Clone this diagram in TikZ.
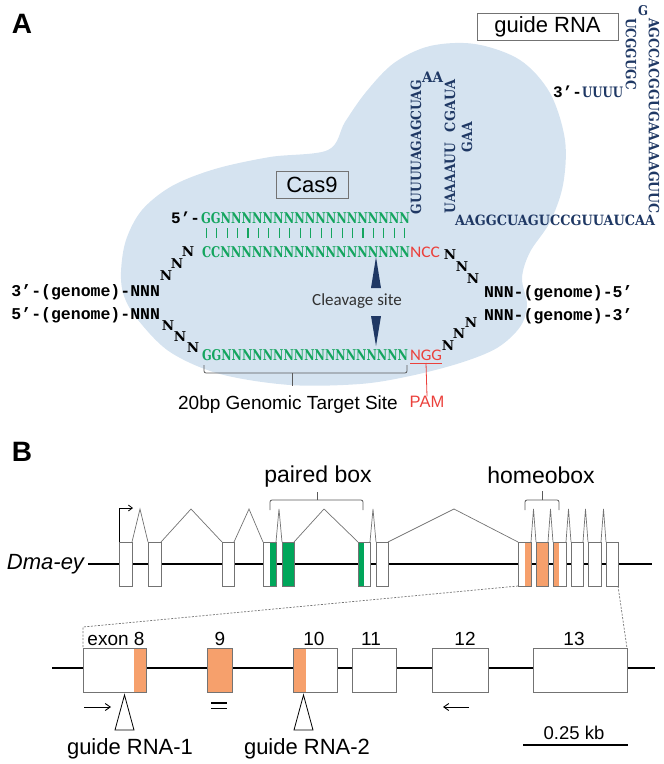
\documentclass[tikz,border=0pt]{standalone}
\usepackage{fontspec}
\usepackage{graphicx}
\setmainfont{Liberation Sans}
\newfontfamily\seqf{DejaVu Serif}
\newfontfamily\monof{Liberation Mono}
\newfontfamily\calf{Carlito}
\usetikzlibrary{arrows.meta}
\definecolor{blob}{RGB}{213,227,240}
\definecolor{navy}{RGB}{31,56,100}
\definecolor{sgreen}{RGB}{20,165,95}
\definecolor{sred}{RGB}{235,65,60}
\definecolor{bgreen}{RGB}{0,166,90}
\definecolor{orng}{RGB}{246,160,108}
\definecolor{boxgray}{RGB}{115,115,115}
\definecolor{bracegray}{RGB}{90,90,90}
\definecolor{cleav}{RGB}{50,50,50}
\newcommand\seqtxt[3]{\resizebox{#1pt}{#2pt}{\seqf\bfseries #3}}
\newcommand\redtxt[2]{\resizebox{#1pt}{10.5pt}{\calf #2}}
\newcommand\setfs[1]{\fontsize{#1}{#1}\selectfont}
\newcommand\exbox[6][]{\node[exonb,#1,minimum width={(#4-#3)*1pt},minimum height={(#6-#5)*1pt}] (#2) at ({(#3+#4)/2},{(#5+#6)/2}) {};}
\begin{document}
\begin{tikzpicture}[x=1pt,y=-1pt,
  every node/.style={inner sep=0pt,outer sep=0pt},
  rnaseq/.style={text=navy},
  nch/.style={font={\seqf\bfseries\setfs{13.5}}},
  gen/.style={font={\monof\bfseries\setfs{16.5}}},
  exonb/.style={draw=boxgray,fill=white,line width=0.7pt},
  intron/.style={draw=boxgray,line width=0.7pt},
  dotl/.style={draw=boxgray,line width=0.7pt,dash pattern=on 2pt off 1.5pt},
  bline/.style={line width=2.4pt},
  lbl/.style={font={\setfs{19}}},
  arr/.style={line width=0.9pt,-{Straight Barb[length=5pt,width=7pt]}}]
\useasboundingbox (0,0) rectangle (664,764);

% ---------------- Panel A ----------------
\node[font={\bfseries\setfs{28}}] (labA) at (22,24) {A};

\fill[blob] plot[smooth cycle,tension=0.55] coordinates {
 (121,272) (126,240) (142,210) (172,186) (215,169) (270,157) (328,150)
 (345,122) (366,92) (394,63) (430,46) (475,44) (520,60) (550,93)
 (565,140) (563,185) (550,222) (530,252) (522,278) (527,305) (520,327)
 (497,348) (460,363) (410,376) (360,384) (290,385) (220,374) (170,352)
 (138,320) (124,296)};

\node[draw=boxgray,line width=0.8pt,minimum width=141pt,minimum height=27pt,font={\setfs{22}}] (grna) at (547.5,26.5) {guide RNA};
\node[draw=boxgray,line width=0.8pt,minimum width=72pt,minimum height=27pt,font={\setfs{22}}] (cas) at (312,184.5) {Cas9};

% guide RNA sequence
\node[rnaseq,rotate=90,anchor=west] (c1) at (416,214) {\seqtxt{134}{10.5}{GUUUUAGAGCUAG}};
\node[rnaseq,anchor=west] (aa) at (422,77) {\seqtxt{21}{10.5}{AA}};
\node[rnaseq,rotate=90,anchor=west] (c2a) at (450,213) {\seqtxt{70}{10.5}{UAAAAUU}};
\node[rnaseq,rotate=90,anchor=west] (c2b) at (450,132) {\seqtxt{52}{10.5}{CGAUA}};
\node[rnaseq,rotate=90,anchor=west] (gaa) at (467,152) {\seqtxt{30}{10.5}{GAA}};
\node[rnaseq,anchor=west] (row) at (455,220) {\seqtxt{200}{10.5}{AAGGCUAGUCCGUUAUCAA}};
\node[rnaseq,rotate=-90,anchor=west] (c4) at (654,18) {\seqtxt{196}{10.5}{AGCCACGGUGAAAAAGUUC}};
\node[rnaseq,rotate=-90,anchor=west] (c3) at (631,18) {\seqtxt{72}{10.5}{UCGGUGC}};
\node[rnaseq] (gl) at (643,11) {\seqtxt{10}{10}{G}};
\node[rnaseq,anchor=east] (u4) at (623,92) {\seqtxt{41}{10.5}{UUUU}};
\node[anchor=base east,font={\monof\bfseries\setfs{16}}] (p3) at (582,97) {3’-};

% top strand (guide)
\node[anchor=base east,font={\monof\bfseries\setfs{16}}] (p5) at (200,223) {5’-};
\node[anchor=west,text=sgreen] (top) at (201,218) {\seqtxt{209}{11}{GGNNNNNNNNNNNNNNNNNN}};
\foreach \i in {0,...,19} \draw[sgreen,line width=1.1pt] ({206.2+10.45*\i},228) -- ({206.2+10.45*\i},238);

% target strand
\node[anchor=west,text=sgreen] (cc) at (202,252) {\seqtxt{208}{11}{CCNNNNNNNNNNNNNNNNNN}};
\node[anchor=west,text=sred] (ncc) at (410,252) {\redtxt{30}{NCC}};
\node[anchor=west,text=sgreen] (gg) at (202,355) {\seqtxt{206}{11}{GGNNNNNNNNNNNNNNNNNN}};
\node[anchor=west,text=sred] (ngg) at (410,355) {\redtxt{32}{NGG}};
\draw[sred,line width=0.8pt] (410,363) -- (442,363);
\coordinate (pamtop) at (426,363);
\node[text=sred,font={\setfs{16.5}}] (pam) at (427,402) {PAM};
\draw[sred,line width=0.8pt] (pamtop) -- (pam.north);

% N chains
\node[nch] (nl1) at (188,252) {N};
\node[nch] (nl2) at (177,264) {N};
\node[nch] (nl3) at (166,276) {N};
\node[nch] (nr1) at (450,255) {N};
\node[nch] (nr2) at (462,267) {N};
\node[nch] (nr3) at (473,279) {N};
\node[nch] (bl1) at (168,326) {N};
\node[nch] (bl2) at (180,337) {N};
\node[nch] (bl3) at (193,348) {N};
\node[nch] (br1) at (448,346) {N};
\node[nch] (br2) at (459,334) {N};
\node[nch] (br3) at (471,323) {N};

% genome labels
\node[gen,anchor=base east] (gl1) at (160,296) {3’-(genome)-NNN};
\node[gen,anchor=base east] (gl2) at (160,319) {5’-(genome)-NNN};
\node[gen,anchor=base west] (gr1) at (484,297) {NNN-(genome)-5’};
\node[gen,anchor=base west] (gr2) at (484,320) {NNN-(genome)-3’};

% cleavage
\fill[navy] (371,288) -- (376,257) -- (381,288) -- cycle;
\fill[navy] (371,316) -- (376,346) -- (381,316) -- cycle;
\node[text=cleav,font={\calf\setfs{17}}] (clv) at (357,301) {Cleavage site};

% bracket
\draw[bracegray,line width=0.8pt,rounded corners=2pt] (204,365) -- (204,373) -- (407,373) -- (407,365);
\coordinate (brmid) at (292,373);
\node[font={\setfs{19}}] (tgt) at (288,405) {20bp Genomic Target Site};
\draw[bracegray,line width=0.8pt] (brmid) -- (292,386);

% ---------------- Panel B ----------------
\node[font={\bfseries\setfs{28}}] (labB) at (22,452) {B};

\node[anchor=base east,font={\itshape\setfs{22}}] (dma) at (84,569) {Dma-ey};
\coordinate (ml0) at (88,564);
\coordinate (ml1) at (652,564);
\draw[bline] (ml0) -- (ml1);

\exbox{e1}{119}{132}{542}{586}
\exbox{e2}{148}{161}{542}{586}
\exbox{e3}{222}{234}{542}{586}
\exbox{e4}{263}{276}{542}{586}
\exbox[fill=bgreen]{e5}{282}{294}{542}{586}
\exbox{e6}{358}{370}{542}{586}
\exbox{e7}{376}{388}{542}{586}
\exbox{h1}{518}{531}{542}{586}
\exbox[fill=orng]{h2}{536}{548}{542}{586}
\exbox{h3}{553}{566}{542}{586}
\exbox{h4}{571}{583}{542}{586}
\exbox{h5}{588}{601}{542}{586}
\exbox{h6}{606}{618}{542}{586}
\fill[bgreen] (270,542) rectangle (276,586);
\draw[boxgray,line width=0.7pt] (e4.north west) rectangle (e4.south east);
\fill[bgreen] (358,542) rectangle (364,586);
\draw[boxgray,line width=0.7pt] (e6.north west) rectangle (e6.south east);
\fill[orng] (525,542) rectangle (531,586);
\draw[boxgray,line width=0.7pt] (h1.north west) rectangle (h1.south east);
\fill[orng] (553,542) rectangle (559,586);
\draw[boxgray,line width=0.7pt] (h3.north west) rectangle (h3.south east);

% introns
\draw[intron] (e1.north east) -- (140,509) -- (e2.north west);
\draw[intron] (e2.north east) -- (191,509) -- (e3.north west);
\draw[intron] (e3.north east) -- (249,509) -- (e4.north west);
\draw[intron] (e4.north east) -- (279,509) -- (e5.north west);
\draw[intron] (e5.north east) -- (324,509) -- (e6.north west);
\draw[intron] (e6.north east) -- (373,509) -- (e7.north west);
\draw[intron] (e7.north east) -- (454,509) -- (h1.north west);
\draw[intron] (h1.north east) -- (533.5,509) -- (h2.north west);
\draw[intron] (h2.north east) -- (550.5,509) -- (h3.north west);
\draw[intron] (h3.north east) -- (568.5,509) -- (h4.north west);
\draw[intron] (h4.north east) -- (585.5,509) -- (h5.north west);
\draw[intron] (h5.north east) -- (603.5,509) -- (h6.north west);

% TSS arrow
\draw[line width=0.8pt,-{Straight Barb[length=4pt,width=6pt]}] (e1.north west) -- (119,508) -- (133,508);

% braces
\draw[bracegray,line width=0.8pt,rounded corners=2pt] (270,510) -- (270,500) -- (363,500) -- (363,510);
\draw[bracegray,line width=0.8pt] (317,500) -- (317,492);
\node[anchor=base,font={\setfs{23}}] (pbox) at (318,482) {paired box};
\draw[bracegray,line width=0.8pt,rounded corners=2pt] (525,510) -- (525,500) -- (559,500) -- (559,510);
\draw[bracegray,line width=0.8pt] (542,500) -- (542,491);
\node[anchor=base,font={\setfs{23}}] (hbox) at (541,483) {homeobox};

% zoomed region
\coordinate (dl) at (83,627);
\draw[bline] (52,668) -- (655,668);
\exbox{z8}{83}{146}{648}{692}
\exbox[fill=orng]{z9}{207}{232}{648}{692}
\exbox{z10}{293}{337}{648}{692}
\exbox{z11}{352}{396}{648}{692}
\exbox{z12}{432}{488}{648}{692}
\exbox{z13}{533}{627}{648}{692}
\fill[orng] (134,648) rectangle (146,692);
\draw[boxgray,line width=0.7pt] (z8.north west) rectangle (z8.south east);
\fill[orng] (293,648) rectangle (306,692);
\draw[boxgray,line width=0.7pt] (z10.north west) rectangle (z10.south east);

\draw[dotl] (h1.south west) -- (dl) -- (z8.north west);
\draw[dotl] (h6.south east) -- (z13.north east);

\node[lbl,anchor=base] (l8) at (116,645) {exon 8};
\node[lbl,anchor=base] (l9) at (220,645) {9};
\node[lbl,anchor=base] (l10) at (314,645) {10};
\node[lbl,anchor=base] (l11) at (371,645) {11};
\node[lbl,anchor=base] (l12) at (465,645) {12};
\node[lbl,anchor=base] (l13) at (574,645) {13};

% primers and guides
\coordinate (pa0) at (84,707); \coordinate (pa1) at (111,707);
\draw[arr] (pa0) -- (pa1);
\coordinate (pb0) at (469,707); \coordinate (pb1) at (443,707);
\draw[arr] (pb0) -- (pb1);
\draw[line width=1.4pt] (211,703) -- (227,703);
\draw[line width=1.4pt] (211,708.5) -- (227,708.5);
\draw[fill=white,line width=0.8pt] (115,730) -- (124.5,695) -- (134,730) -- cycle;
\draw[fill=white,line width=0.8pt] (294,730) -- (303.5,695) -- (313,730) -- cycle;
\node[anchor=base,font={\setfs{22}}] (g1) at (130,754) {guide RNA-1};
\node[anchor=base,font={\setfs{22}}] (g2) at (307,754) {guide RNA-2};

% scale bar
\coordinate (sb0) at (523,745); \coordinate (sb1) at (628,745);
\draw[bline] (sb0) -- (sb1);
\node[anchor=base,font={\setfs{18.5}}] (sbl) at (574,739) {0.25 kb};
\end{tikzpicture}
\end{document}
